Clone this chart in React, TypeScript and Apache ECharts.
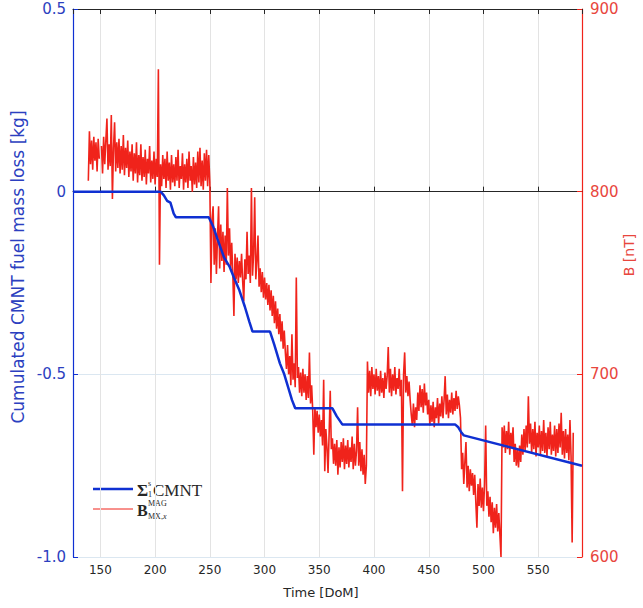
import React, { useEffect, useRef } from 'react';
import * as echarts from 'echarts';

// ---- Data ----
const xRange = [125, 590];
const leftRange = [-1, 0.5];
const rightRange = [600, 900];

// Cumulated CMNT fuel mass loss [kg] (blue)
const blueDays = [125, 205, 208, 211, 214, 217, 219, 249, 253, 257, 263, 268, 272, 277, 282, 286, 289, 305, 309, 314, 318, 322, 325, 328, 362, 366, 371, 474, 477, 480, 482, 590];
const blueKg = [0, 0, -0.01, -0.025, -0.03, -0.06, -0.07, -0.07, -0.095, -0.13, -0.18, -0.205, -0.235, -0.27, -0.315, -0.355, -0.383, -0.383, -0.42, -0.47, -0.5, -0.54, -0.57, -0.593, -0.593, -0.615, -0.637, -0.637, -0.645, -0.66, -0.667, -0.75];

// B^MAG_MX,x [nT] (red), one sample per day starting at bStartDay
const bStartDay = 139;
const bValues: (number | null)[] = [
  806, 833, 815, 828, 812, 830, 817, 827, 811, 829, // 139
  818, null, 825, 810, 830, 815, 828, 840, 812, 826, // 149
  814, 842, 796, 824, 838, 811, 827, 813, 829, 810, // 159
  825, 812, 831, 809, 824, 813, 828, 808, 822, 811, // 169
  826, 806, 821, 810, 827, 805, 820, 809, 826, 806, // 179
  819, 808, 823, 804, 818, 810, 825, 805, 817, 807, // 189
  822, 804, 818, 808, 867, 760, 815, 803, 820, 807, // 199
  818, 802, 822, 806, 816, 801, 820, 805, 815, 803, // 209
  819, 806, 823, 802, 814, 807, 821, 801, 815, 805, // 219
  818, 802, 822, 806, 814, 800, 819, 804, 816, 802, // 229
  822, 805, 824, 803, 817, 801, 821, 806, 823, 803, // 239
  820, 805, 750, 785, 792, 760, 780, 755, 775, 792, // 249
  758, 782, 762, 778, 756, 776, 760, 802, 765, 780, // 259
  758, 772, 755, 732, 766, 752, 764, 750, 762, 753, // 269
  766, 751, 740, 763, 752, 778, 755, 765, 750, 802, // 279
  754, 766, 797, 752, 762, 776, 748, 758, 745, 756, // 289
  742, 753, 741, 750, 738, 749, 735, 746, 732, 743, // 299
  728, 740, 725, 736, 722, 733, 718, 729, 714, 724, // 309
  712, 703, 716, 700, 710, 694, 722, 697, 706, 693, // 319
  753, 698, 704, 690, 701, 688, 703, 690, 700, 686, // 329
  699, 687, 712, 684, 694, 680, 656, 682, 671, 680, // 339
  668, 678, 666, 675, 661, 697, 647, 670, 660, 646, // 349
  668, 691, 659, 665, 651, 662, 650, 664, 645, 660, // 359
  649, 663, 652, 665, 648, 661, 651, 664, 649, 660, // 369
  652, 666, 648, 662, 650, 658, 682, 650, 663, 647, // 379
  659, 645, 656, 640, 650, 707, 690, 702, 688, 704, // 389
  692, 700, 689, 703, 691, 699, 688, 702, 690, 698, // 399
  687, 701, 692, 699, 715, 690, 703, 688, 700, 691, // 409
  704, 689, 698, 692, 703, 688, 697, 636, 700, 712, // 419
  690, 699, 688, 696, 686, 678, 672, 684, 671, 682, // 429
  675, 690, 680, 694, 682, 692, 679, 695, 683, 690, // 439
  678, 686, 672, 683, 674, 685, 671, 682, 676, 687, // 449
  673, 684, 677, 688, 676, 686, 699, 678, 689, 676, // 459
  686, 679, 690, 678, 687, 680, 691, 681, 688, 683, // 469
  676, 648, 657, 640, 652, 663, 638, 650, 636, 648, // 479
  639, 646, 634, 645, 630, 616, 640, 628, 643, 627, // 489
  638, 625, 640, 672, 628, 636, 622, 633, 619, 630, // 499
  613, 627, 616, 629, 614, 624, 612, 600, 671, 660, // 509
  672, 657, 669, 659, 674, 656, 668, 660, 671, 652, // 519
  662, 650, 659, 649, 661, 652, 667, 656, 670, 658, // 529
  672, 660, 688, 662, 673, 657, 670, 659, 674, 655, // 539
  668, 660, 672, 656, 669, 658, 675, 657, 668, 655, // 549
  671, 659, 674, 656, 667, 658, 672, 655, 670, 657, // 559
  673, 660, 679, 656, 669, 654, 670, 657, 667, 653, // 569
  675, 655, 608, 668, // 579
];

const BLUE = '#0f30d2';
const BLUE_TEXT = '#2c3fc0';
const RED = '#f0231b';
const RED_TEXT = '#e8463d';
const DARK = '#262626';

export default function App() {
  const ref = useRef<HTMLDivElement>(null);
  useEffect(() => {
    document.body.style.margin = '0';
    if (!ref.current) return;
    const chart = echarts.init(ref.current, null, { renderer: 'svg' });
    const blueData = blueDays.map((d, i) => [d, blueKg[i]]);
    const redData = bValues.map((v, i) => [bStartDay + i, v === null ? '-' : v]);
    const sans = '"DejaVu Sans", sans-serif';
    const serif = '"Liberation Serif", serif';
    chart.setOption({
      animation: false,
      backgroundColor: '#ffffff',
      grid: { left: 73, right: 61, top: 9, bottom: 51, containLabel: false },
      xAxis: [
        {
          type: 'value', min: xRange[0], max: xRange[1], splitNumber: 9, position: 'bottom',
          axisLine: { show: true, lineStyle: { color: DARK, width: 1 } },
          axisTick: { show: true, inside: true, length: 5, lineStyle: { color: DARK } },
          axisLabel: { color: DARK, fontSize: 12, fontFamily: sans, margin: 7, showMinLabel: false, showMaxLabel: false },
          splitLine: { show: true, lineStyle: { color: '#e3e3e3', width: 1 } },
        },
        {
          type: 'value', min: xRange[0], max: xRange[1], splitNumber: 9, position: 'top',
          axisLine: { show: true, lineStyle: { color: DARK, width: 1 } },
          axisTick: { show: true, inside: true, length: 5, lineStyle: { color: DARK } },
          axisLabel: { show: false },
          splitLine: { show: false },
        },
      ],
      yAxis: [
        {
          type: 'value', min: leftRange[0], max: leftRange[1], interval: 0.5, position: 'left',
          axisLine: { show: true, lineStyle: { color: BLUE, width: 1.2 } },
          axisTick: { show: true, inside: true, length: 5, lineStyle: { color: BLUE } },
          axisLabel: {
            color: BLUE_TEXT, fontSize: 15, fontFamily: sans, margin: 7,
            formatter: (v: number) => (v === -1 ? '-1.0' : String(v)),
          },
          splitLine: { show: true, lineStyle: { color: '#dbe7f1', width: 1 } },
        },
        {
          type: 'value', min: rightRange[0], max: rightRange[1], interval: 100, position: 'right',
          axisLine: { show: true, lineStyle: { color: RED, width: 1.2 } },
          axisTick: { show: true, inside: true, length: 5, lineStyle: { color: RED } },
          axisLabel: { color: RED_TEXT, fontSize: 15, fontFamily: sans, margin: 8 },
          splitLine: { show: false },
        },
      ],
      series: [
        {
          name: 'B', type: 'line', xAxisIndex: 0, yAxisIndex: 1, data: redData,
          symbol: 'none', connectNulls: false,
          lineStyle: { color: RED, width: 1.6 }, z: 2,
        },
        {
          name: 'CMNT', type: 'line', xAxisIndex: 0, yAxisIndex: 0, data: blueData,
          symbol: 'none', lineStyle: { color: BLUE, width: 2.5 }, z: 3,
        },
      ],
      graphic: [
        { type: 'text', x: 18, y: 267, rotation: Math.PI / 2,
          style: { text: 'Cumulated CMNT fuel mass loss [kg]', font: `17px ${sans}`, fill: BLUE_TEXT, textAlign: 'center', textVerticalAlign: 'middle' } },
        { type: 'text', x: 629, y: 255, rotation: Math.PI / 2,
          style: { text: 'B [nT]', font: `14px ${sans}`, fill: RED_TEXT, textAlign: 'center', textVerticalAlign: 'middle' } },
        { type: 'text', x: 321, y: 592,
          style: { text: 'Time [DoM]', font: `13px ${sans}`, fill: DARK, textAlign: 'center', textVerticalAlign: 'middle' } },
        // legend
        { type: 'line', shape: { x1: 93, y1: 489, x2: 133, y2: 489 }, style: { stroke: BLUE, lineWidth: 2.5 } },
        { type: 'line', shape: { x1: 93, y1: 509, x2: 133, y2: 509 }, style: { stroke: RED, lineWidth: 1 } },
        { type: 'text', x: 137, y: 490, style: { text: 'Σ', font: `bold 17px ${serif}`, fill: DARK, textVerticalAlign: 'middle' } },
        { type: 'text', x: 148, y: 483, style: { text: 's', font: `8px ${serif}`, fill: DARK, textVerticalAlign: 'middle' } },
        { type: 'text', x: 148, y: 494, style: { text: '1', font: `8px ${serif}`, fill: DARK, textVerticalAlign: 'middle' } },
        { type: 'text', x: 153, y: 490, style: { text: 'CMNT', font: `17px ${serif}`, fill: DARK, textVerticalAlign: 'middle' } },
        { type: 'text', x: 137, y: 510, style: { text: 'B', font: `bold 16px ${serif}`, fill: DARK, textVerticalAlign: 'middle' } },
        { type: 'text', x: 148, y: 503, style: { text: 'MAG', font: `8px ${serif}`, fill: DARK, textVerticalAlign: 'middle' } },
        { type: 'text', x: 148, y: 516, style: { text: 'MX,', font: `8px ${serif}`, fill: DARK, textVerticalAlign: 'middle' } },
        { type: 'text', x: 163, y: 516, style: { text: 'x', font: `italic 8px ${serif}`, fill: DARK, textVerticalAlign: 'middle' } },
      ],
    });
    return () => chart.dispose();
  }, []);
  return <div ref={ref} style={{ width: 643, height: 608 }} />;
}
